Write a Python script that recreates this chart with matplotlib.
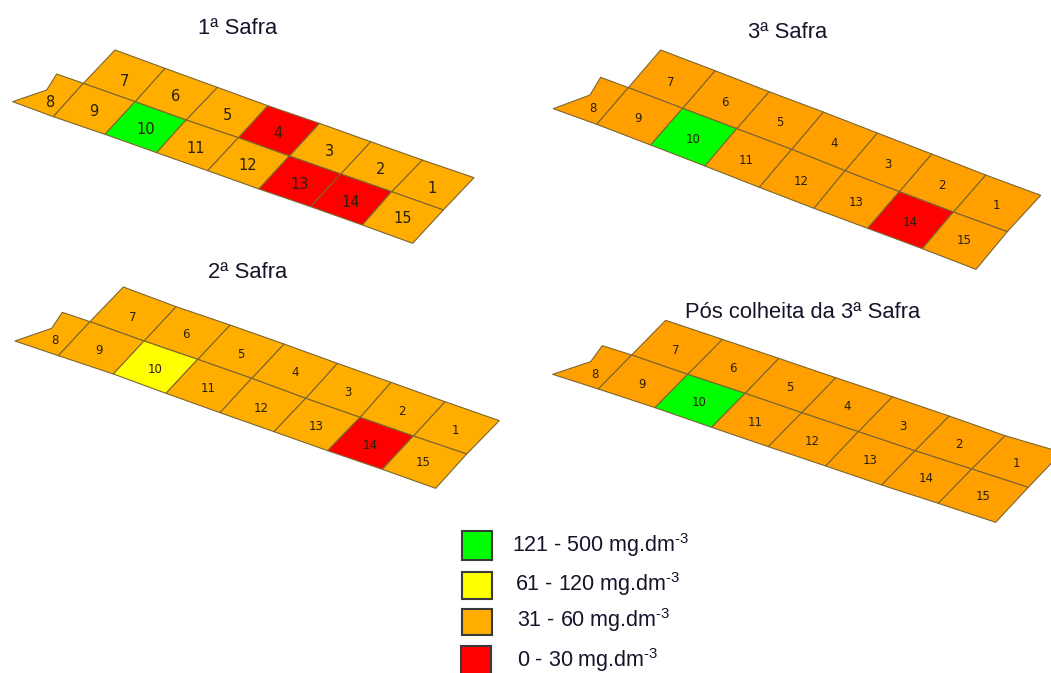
import matplotlib
matplotlib.use("Agg")
import matplotlib.pyplot as plt
from matplotlib.patches import Polygon, Rectangle

plt.rcParams['font.family'] = ['Liberation Sans', 'DejaVu Sans']
plt.rcParams['mathtext.fontset'] = 'custom'
plt.rcParams['mathtext.rm'] = 'Liberation Sans'
plt.rcParams['mathtext.default'] = 'regular'

WIDTH, HEIGHT = 1051, 673
GREEN, YELLOW, ORANGE, RED = 'g', 'y', 'o', 'r'

# Field outline of each map at 3x zoom
titles = ['1ª Safra', '3ª Safra', '2ª Safra', 'Pós colheita da 3ª Safra']
title_centers = [(238, 28), (788, 33), (248, 273), (803, 312)]
crop_origins = [(0, 10), (540, 10), (0, 255), (540, 295)]

top_edges = [
    [(345,120),(495,175),(652,232),(803,287),(958,340),(1112,395),(1267,450),(1422,503)],
    [(362,120),(525,182),(687,245),(850,306),(1012,369),(1175,432),(1337,495),(1502,556)],
    [(370,96),(528,155),(690,210),(852,267),(1012,325),(1173,382),(1335,440),(1498,497)],
    [(377,76),(547,133),(716,190),(887,248),(1057,305),(1227,363),(1395,422),(1565,472)],
]
middle_edges = [
    [(250,220),(405,275),(558,330),(715,383),(868,438),(1022,492),(1175,545),(1330,600)],
    [(265,233),(428,295),(590,356),(755,418),(915,482),(1078,545),(1240,606),(1402,665)],
    [(270,200),(432,258),(593,313),(755,370),(917,430),(1080,487),(1240,543),(1400,597)],
    [(275,180),(443,238),(615,295),(785,353),(955,410),(1125,467),(1295,522),(1465,577)],
]
bottom_edges = [
    [(160,320),(315,373),(470,428),(623,482),(777,537),(932,590),(1087,645),(1238,700)],
    [(170,343),(332,405),(495,468),(658,532),(822,595),(983,655),(1147,716),(1308,778)],
    [(175,302),(340,357),(498,415),(660,473),(822,530),(983,587),(1147,643),(1307,700)],
    [(175,282),(345,338),(515,397),(685,455),(857,513),(1025,570),(1195,625),(1367,682)],
]
tips = [
    [(38,275),(140,240),(170,192)],
    [(40,296),(150,255),(182,202)],
    [(45,258),(155,220),(187,172)],
    [(38,238),(152,200),(187,152)],
]

# Class of plots 1..15 in each map
classes = [
    ['o','o','o','r','o','o','o','o','o','g','o','o','r','r','o'],
    ['o','o','o','o','o','o','o','o','o','g','o','o','o','r','o'],
    ['o','o','o','o','o','o','o','o','o','y','o','o','o','r','o'],
    ['o','o','o','o','o','o','o','o','o','g','o','o','o','o','o'],
]
plot_numbers = list(range(1, 16))
label_points = [
    [(1295,535),(1143,480),(990,425),(835,372),(682,315),(527,260),(372,213),(152,277),(281,305),(438,360),(587,415),(743,468),(898,523),(1052,578),(1207,625)],
    [(1368,587),(1207,526),(1044,463),(882,401),(718,339),(555,276),(392,218),(160,296),(294,327),(460,388),(620,452),(784,515),(947,577),(1112,637),(1272,693)],
    [(1366,525),(1207,469),(1044,411),(884,354),(722,297),(558,240),(398,187),(166,258),(298,287),(464,343),(624,401),(785,459),(948,516),(1112,571),(1270,624)],
    [(1430,506),(1258,450),(1088,393),(920,335),(750,278),(578,221),(406,167),(166,239),(306,267),(478,324),(647,381),(817,440),(990,497),(1160,552),(1330,605)],
]
orange_shades = ['#FFAE00', '#FFA000', '#FFAE00', '#FFA000']
label_sizes = [10.5, 8.5, 8.5, 8.5]

legend_labels = ['121 - 500 mg.dm', '61 - 120 mg.dm', '31 - 60 mg.dm', '0 - 30 mg.dm']
legend_classes = [GREEN, YELLOW, ORANGE, RED]
legend_boxes = [(462, 531, 30, 29), (462, 572, 30, 27), (462, 609, 30, 26), (461, 646, 30, 30)]
legend_text_starts = [(512, 545), (515, 584), (517, 620), (517, 660)]

fig = plt.figure(figsize=(WIDTH / 100, HEIGHT / 100), dpi=100, facecolor='white')
ax = fig.add_axes([0, 0, 1, 1])
ax.set_xlim(0, WIDTH)
ax.set_ylim(HEIGHT, 0)
ax.axis('off')

TEXT = '#14142a'
EDGE = '#7d6530'


def color_of(cls, orange):
    return {'g': '#00FF00', 'y': '#FFFF00', 'o': orange, 'r': '#FF0000'}[cls]


for m in range(4):
    ox, oy = crop_origins[m]
    conv = lambda p: (ox + p[0] / 3, oy + p[1] / 3)
    T = [conv(p) for p in top_edges[m]]
    M = [conv(p) for p in middle_edges[m]]
    B = [conv(p) for p in bottom_edges[m]]
    L, N, P = [conv(p) for p in tips[m]]
    shapes = {}
    for i in range(7):
        shapes[7 - i] = [T[i], T[i + 1], M[i + 1], M[i]]
        shapes[9 + i] = [M[i], M[i + 1], B[i + 1], B[i]]
    shapes[8] = [L, N, P, M[0], B[0]]
    for n in plot_numbers:
        ax.add_patch(Polygon(shapes[n], closed=True,
                             facecolor=color_of(classes[m][n - 1], orange_shades[m]),
                             edgecolor=EDGE, linewidth=0.8, joinstyle='round'))
        lx, ly = conv(label_points[m][n - 1])
        ax.text(lx, ly, str(n), ha='center', va='center', fontsize=label_sizes[m],
                family='DejaVu Sans', color='#2a2008', zorder=5)
    ax.text(title_centers[m][0], title_centers[m][1], titles[m], ha='center', va='center',
            fontsize=15.8, color=TEXT)

for lab, cls, box, start in zip(legend_labels, legend_classes, legend_boxes, legend_text_starts):
    ax.add_patch(Rectangle(box[:2], box[2], box[3], facecolor=color_of(cls, '#FFAE00'),
                           edgecolor='#3a3a3a', linewidth=1.5))
    ax.text(start[0], start[1], lab + r'$^{\text{-3}}$', ha='left', va='center',
            fontsize=15.5, color=TEXT)

fig.savefig('out.png', dpi=100, facecolor='white')
